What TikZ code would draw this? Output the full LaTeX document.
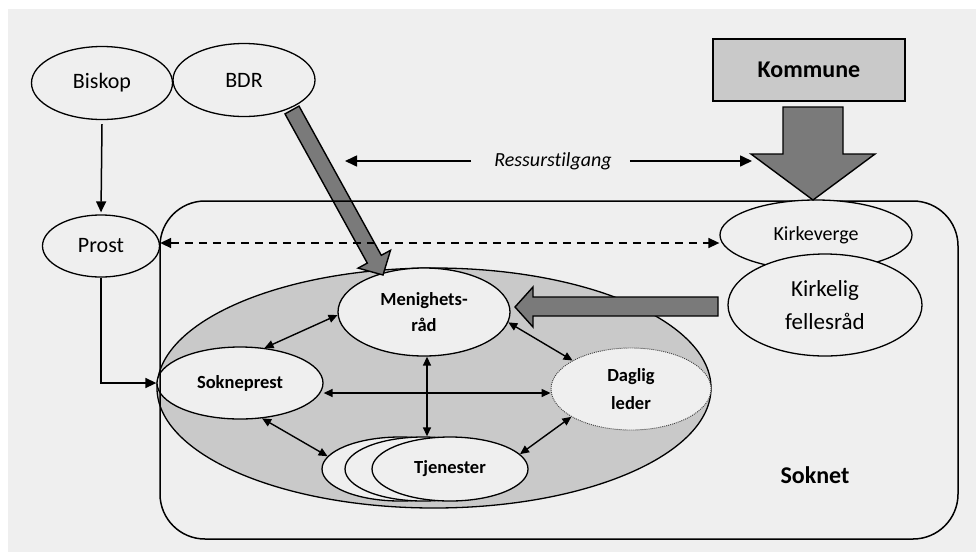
\documentclass[tikz,border=0pt]{standalone}
\usepackage{fontspec}
\setmainfont{Carlito}[Ligatures={TeX,NoCommon}]
\usetikzlibrary{shapes.geometric,arrows.meta,calc}
\definecolor{bgc}{HTML}{EFEFEF}
\definecolor{lightf}{HTML}{EFEFEF}
\definecolor{midf}{HTML}{C9C9C9}
\definecolor{darkf}{HTML}{7A7A7A}
\tikzset{
  ell/.style={ellipse, draw, line width=1.3pt, fill=lightf, inner sep=0pt},
  inlab/.style={font=\fontsize{18.5}{26}\selectfont\bfseries, align=center},
  outlab/.style={font=\fontsize{22}{26}\selectfont},
  dbl/.style={{Triangle[length=9pt,width=8pt]}-{Triangle[length=9pt,width=8pt]}, line width=1.4pt},
  sarrow/.style={-{Triangle[length=11pt,width=10pt]}, line width=1.5pt},
  blockarrow/.style={fill=darkf, draw=black, line width=1.4pt, line join=miter}
}
\begin{document}
\begin{tikzpicture}[x=1pt,y=-1pt]
\useasboundingbox (0,0) rectangle (976,552);
\fill[bgc] (8,9) rectangle (976,552);

% parish ellipse and inner nodes
\node[ellipse, draw, line width=1.3pt, fill=midf, minimum width=554pt, minimum height=240pt, inner sep=0pt] (par) at (434,388) {};
\node[ell, inlab, minimum width=172pt, minimum height=88pt] (men) at (424,312) {Menighets-\\råd};
\node[ell, inlab, minimum width=166pt, minimum height=72pt] (sok) at (240,383) {Sokneprest};
\node[ellipse, fill=lightf, draw=black!75, line width=0.9pt, dash pattern=on 1pt off 1pt, inner sep=0pt, inlab, font=\fontsize{18.5}{28}\selectfont\bfseries, minimum width=160pt, minimum height=82pt] (dag) at (631,389) {Daglig\\leder};
\node[ell, minimum width=156pt, minimum height=64pt] (tjb) at (400,469) {};
\node[ell, minimum width=156pt, minimum height=64pt] (tjm) at (423,469) {};
\node[ell, inlab, minimum width=156pt, minimum height=64pt] (tjf) at (450,469) {Tjenester};

% BDR block arrow
\draw[blockarrow] (285.0,113.9) -- (299.0,106.1) -- (381.3,255.3) -- (390.5,250.3) -- (383,275) -- (358.1,268.1) -- (367.3,263.1) -- cycle;

% Soknet frame
\node[draw, line width=1.5pt, rounded corners=45pt, minimum width=798pt, minimum height=338pt, inner sep=0pt] (soknet) at (559,370) {};
\node[font=\fontsize{24}{28}\selectfont\bfseries] (soknetlab) at (815,475) {Soknet};

% top-level nodes
\node[ell, outlab, minimum width=141pt, minimum height=73pt] (bis) at (102,83) {Biskop};
\node[ell, outlab, minimum width=142pt, minimum height=73pt] (bdr) at (244,80) {BDR};
\node[ell, outlab, minimum width=117pt, minimum height=62pt] (pro) at (101,246) {Prost};

\node[ell, font=\fontsize{20}{24}\selectfont, minimum width=192pt, minimum height=70pt] (kv) at (816,235) {Kirkeverge};
\node[ell, font=\fontsize{23}{33}\selectfont, align=center, minimum width=194pt, minimum height=102pt] (kf) at (825,305) {Kirkelig\\fellesråd};

% Kommune
\node[draw, line width=1.5pt, fill=midf, minimum width=192pt, minimum height=62pt, font=\fontsize{24}{28}\selectfont\bfseries] (kom) at (809,70) {Kommune};
\draw[blockarrow] (783,107) -- (843,107) -- (843,154) -- (875,154) -- (813,200) -- (751,154) -- (783,154) -- cycle;

% Fellesråd -> Menighetsråd block arrow
\draw[blockarrow] (718,297) -- (533,297) -- (533,287) -- (515,307) -- (533,327) -- (533,316) -- (718,316) -- cycle;

% Ressurstilgang
\node[font=\fontsize{20}{24}\selectfont\itshape, inner sep=0pt] (res) at (553,161) {Ressurstilgang};
\coordinate (resl) at (345,161);
\coordinate (resr) at (752,161);
\draw[-{Triangle[length=12pt,width=11pt]}, line width=1.6pt] ([xshift=-23pt]res.west) -- (resl);
\draw[-{Triangle[length=12pt,width=11pt]}, line width=1.6pt] ([xshift=18pt]res.east) -- (resr);

% hierarchy connectors
\draw[sarrow] ([yshift=-4pt]bis.south) -- ([yshift=2pt]pro.north);
\draw[sarrow] (pro.south) |- (sok.west);
\draw[{Triangle[length=11pt,width=10pt]}-{Triangle[length=11pt,width=10pt]}, line width=1.5pt, dash pattern=on 8pt off 6pt] ([yshift=3pt]pro.east) -- ([yshift=3pt]pro.east -| kv.west);

% internal double arrows
\draw[dbl] (sok.55) -- (men.182);
\draw[dbl] (men.-7) -- (dag.154);
\draw[dbl] ([yshift=-10pt]sok.east) -- ([yshift=-10pt]sok.east -| dag.west);
\draw[dbl] ([xshift=3pt]men.south) -- ([xshift=3pt]men.south |- tjm.north);
\draw[dbl] (sok.-58) -- (tjb.170);
\draw[dbl] (tjf.12) -- (dag.205);
\end{tikzpicture}
\end{document}
